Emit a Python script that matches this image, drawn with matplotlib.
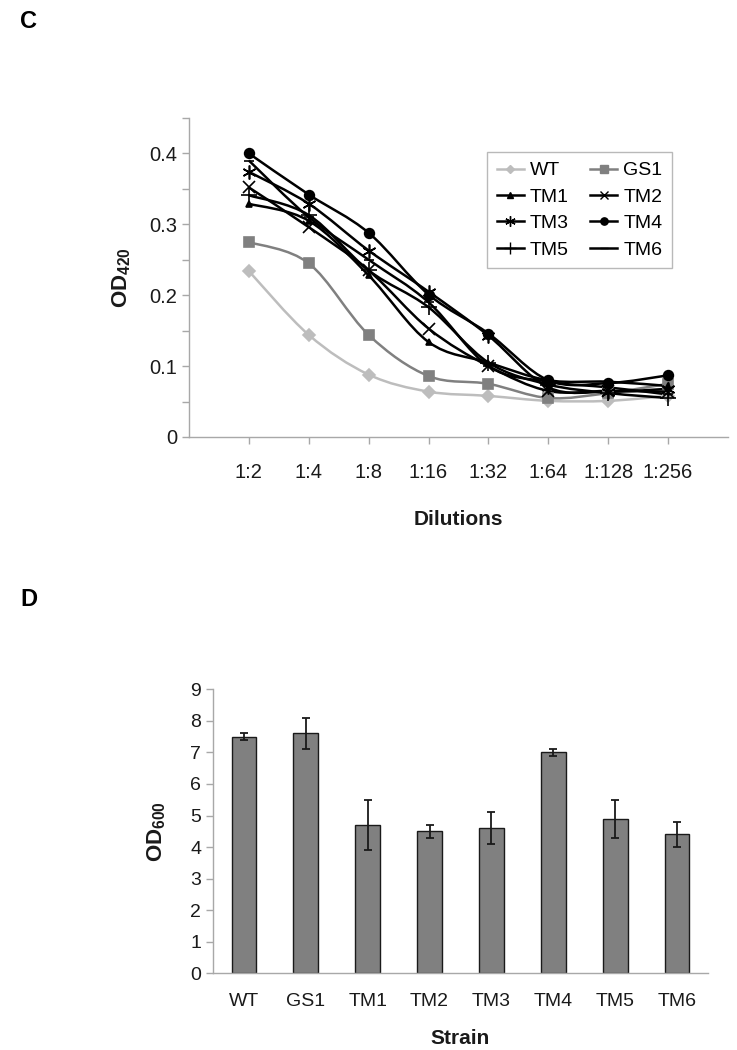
import numpy as np
import matplotlib
matplotlib.use('Agg')
import matplotlib.pyplot as plt
from matplotlib.path import Path
from matplotlib.patches import PathPatch
from matplotlib.lines import Line2D

plt.rcParams['font.family'] = ['Liberation Sans', 'DejaVu Sans']
plt.rcParams['mathtext.fontset'] = 'custom'
plt.rcParams['mathtext.rm'] = 'Liberation Sans'
plt.rcParams['mathtext.bf'] = 'Liberation Sans:bold'

# --- data: panel C (dilution series) ---
dilutions = ['1:2', '1:4', '1:8', '1:16', '1:32', '1:64', '1:128', '1:256']
od420_wt = [0.234, 0.144, 0.088, 0.064, 0.058, 0.051, 0.051, 0.058]
od420_gs1 = [0.275, 0.245, 0.144, 0.086, 0.075, 0.055, 0.062, 0.075]
od420_tm1 = [0.329, 0.305, 0.228, 0.134, 0.105, 0.080, 0.078, 0.072]
od420_tm2 = [0.352, 0.296, 0.235, 0.153, 0.100, 0.065, 0.065, 0.064]
od420_tm3 = [0.374, 0.329, 0.263, 0.205, 0.143, 0.070, 0.064, 0.068]
od420_tm4 = [0.400, 0.342, 0.288, 0.201, 0.146, 0.080, 0.076, 0.087]
od420_tm5 = [0.341, 0.313, 0.235, 0.183, 0.105, 0.074, 0.062, 0.055]
od420_tm6 = [0.390, 0.310, 0.250, 0.190, 0.100, 0.078, 0.070, 0.060]

# --- data: panel D (growth) ---
strains = ['WT', 'GS1', 'TM1', 'TM2', 'TM3', 'TM4', 'TM5', 'TM6']
od600 = [7.5, 7.6, 4.7, 4.5, 4.6, 7.0, 4.9, 4.4]
od600_err = [0.1, 0.5, 0.8, 0.2, 0.5, 0.1, 0.6, 0.4]

AXIS_GRAY = '#a8a8a8'
TXT = '#1a1a1a'


def smooth_path(x, y):
    # Excel-style smoothed line (Catmull-Rom -> cubic Bezier)
    p = np.column_stack([x, y]).astype(float)
    n = len(p)
    verts = [p[0]]
    codes = [Path.MOVETO]
    for i in range(n - 1):
        p0 = p[i - 1] if i > 0 else p[i]
        p3 = p[i + 2] if i + 2 < n else p[i + 1]
        c1 = p[i] + (p[i + 1] - p0) / 6.0
        c2 = p[i + 1] - (p3 - p[i]) / 6.0
        verts += [c1, c2, p[i + 1]]
        codes += [Path.CURVE4] * 3
    return Path(verts, codes)


fig = plt.figure(figsize=(7.37, 10.5), dpi=100)

# ---------------- panel C ----------------
axc = fig.add_axes([189 / 737, 1 - 437 / 1050, 539 / 737, 319 / 1050])
xs = np.arange(len(dilutions))

series = [
    ('WT', od420_wt, '#bdbdbd', 'D', 6),
    ('GS1', od420_gs1, '#808080', 's', 7),
    ('TM1', od420_tm1, 'black', '^', 5),
    ('TM2', od420_tm2, 'black', 'x', 8),
    ('TM3', od420_tm3, 'black', (6, 2, 0), 10),
    ('TM4', od420_tm4, 'black', 'o', 7),
    ('TM5', od420_tm5, 'black', '+', 11),
    ('TM6', od420_tm6, 'black', '_', 7),
]

handles = {}
for name, vals, col, mk, ms in series:
    axc.add_patch(PathPatch(smooth_path(xs, vals), facecolor='none',
                            edgecolor=col, lw=1.8, zorder=2))
    axc.plot(xs, vals, linestyle='none', marker=mk, markersize=ms,
             color=col, markeredgecolor=col, markeredgewidth=1.2, zorder=3)
    handles[name] = Line2D([], [], color=col, lw=1.8, marker=mk,
                           markersize=ms * 0.75, markeredgewidth=1.0)

axc.set_xlim(-1, 8)
axc.set_ylim(0, 0.45)
axc.set_xticks(xs)
axc.set_xticklabels(dilutions)
yt = np.arange(0, 0.451, 0.05)
axc.set_yticks(yt)
axc.set_yticklabels(['0' if abs(v) < 1e-9 else ('%.1f' % v if round(v * 20) % 2 == 0 else '')
                     for v in yt])
for s in ['top', 'right']:
    axc.spines[s].set_visible(False)
for s in ['left', 'bottom']:
    axc.spines[s].set_color(AXIS_GRAY)
    axc.spines[s].set_linewidth(1.0)
axc.tick_params(axis='both', colors=AXIS_GRAY, labelcolor=TXT, labelsize=14.5,
                length=5, width=1.0, direction='out')
axc.tick_params(axis='x', pad=14)
axc.set_xlabel('Dilutions', fontsize=15, fontweight='bold', labelpad=20, color=TXT)
axc.set_ylabel(r'OD$_{\mathbf{420}}$', fontsize=16, fontweight='bold', labelpad=12, color=TXT)

# row-wise legend order as in the original (WT GS1 / TM1 TM2 / ...)
order = ['WT', 'TM1', 'TM3', 'TM5', 'GS1', 'TM2', 'TM4', 'TM6']
leg = axc.legend([handles[k] for k in order], order, ncol=2, loc='upper left',
                 bbox_to_anchor=(0.553, 0.893), borderaxespad=0, fontsize=14,
                 frameon=True, fancybox=False, edgecolor=AXIS_GRAY,
                 handlelength=1.4, labelspacing=0.45, columnspacing=1.1,
                 borderpad=0.5, handletextpad=0.3)
leg.get_frame().set_linewidth(1.0)

fig.text(20 / 737, 1 - 22 / 1050, 'C', fontsize=17, fontweight='bold', va='center', ha='left')

# ---------------- panel D ----------------
axd = fig.add_axes([213 / 737, 1 - 973.3 / 1050, 495 / 737, 284 / 1050])
xb = np.arange(len(strains))
axd.bar(xb, od600, width=0.4, color='#808080', edgecolor='#1a1a1a', linewidth=1.0, zorder=2)
axd.errorbar(xb, od600, yerr=od600_err, fmt='none', ecolor='#1a1a1a',
             elinewidth=1.3, capsize=3, capthick=1.3, zorder=3)
axd.set_xlim(-0.5, len(strains) - 0.5)
axd.set_ylim(0, 9)
axd.set_yticks(range(0, 10))
axd.set_xticks(xb)
axd.set_xticklabels(strains)
for s in ['top', 'right']:
    axd.spines[s].set_visible(False)
for s in ['left', 'bottom']:
    axd.spines[s].set_color(AXIS_GRAY)
    axd.spines[s].set_linewidth(1.0)
axd.tick_params(axis='y', colors=AXIS_GRAY, labelcolor=TXT, labelsize=14,
                length=5, width=1.0, direction='out')
axd.tick_params(axis='x', length=0, labelcolor=TXT, labelsize=14, pad=14)
axd.set_xlabel('Strain', fontsize=15, fontweight='bold', labelpad=14, color=TXT)
axd.set_ylabel(r'OD$_{\mathbf{600}}$', fontsize=16, fontweight='bold', labelpad=16, color=TXT)

fig.text(20 / 737, 1 - 600 / 1050, 'D', fontsize=17, fontweight='bold', va='center', ha='left')

fig.savefig('out.png', dpi=100, facecolor='white')
